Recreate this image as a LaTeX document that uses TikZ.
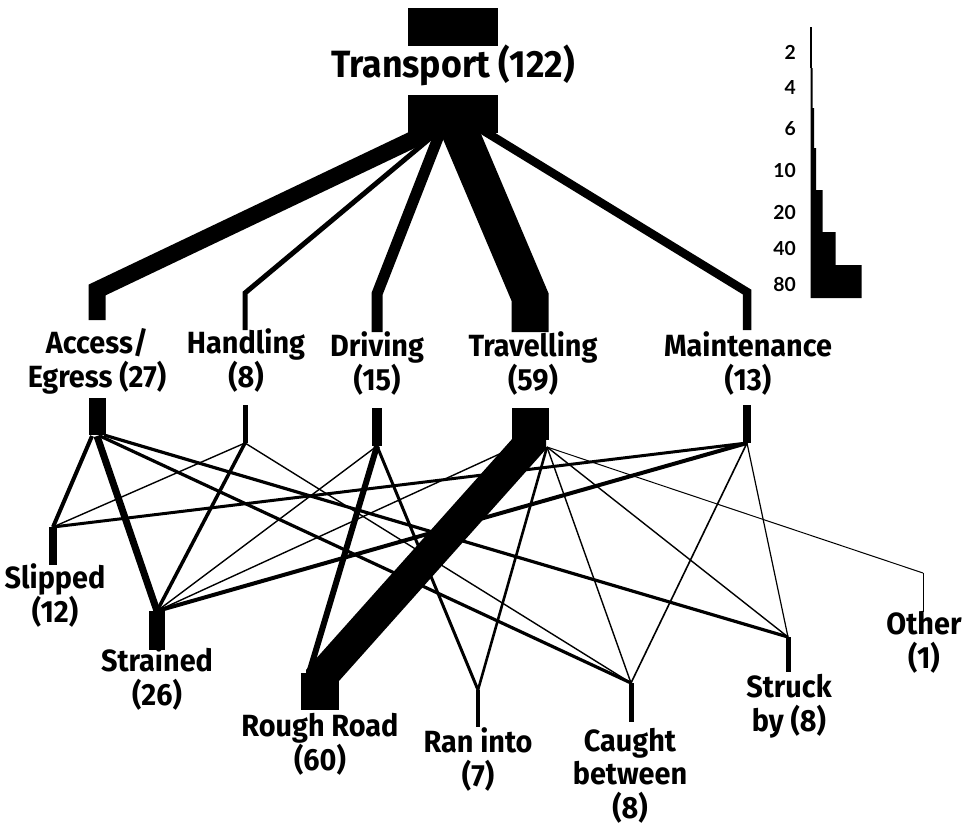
\documentclass[tikz,border=0pt]{standalone}
\usepackage{fontspec}
\newfontfamily\labfont{Fira Sans}[FakeStretch=0.94]
\newfontfamily\legfont{Lato}
\begin{document}
\begin{tikzpicture}[x=0.75pt,y=-0.75pt,
  lw/.style={line width=#1*0.75pt, line cap=butt, line join=miter},
  lab/.style={font=\labfont\bfseries\fontsize{23}{25}\selectfont, align=center, anchor=base, inner sep=0pt},
  big/.style={font=\labfont\bfseries\fontsize{28.5}{30}\selectfont, anchor=base, inner sep=0pt},
  leg/.style={font=\legfont\bfseries\fontsize{14.5}{15}\selectfont, anchor=base east, inner sep=0pt}]
\useasboundingbox (0,0) rectangle (964,825);

% ---------- Transport ----------
\fill (408,8) rectangle (498,46);
\fill (408,95) rectangle (498,133);
\node[big] (tr) at (453,77) {Transport (122)};

% start points inside the bar
\coordinate (tA) at (454,120);
\coordinate (tH) at (452,120);
\coordinate (tD) at (445,120);
\coordinate (tT) at (455,120);
\coordinate (tM) at (466,120);
% bends and stub ends above category labels
\coordinate (bA) at (97,290);  \coordinate (sA) at (97,320);
\coordinate (bH) at (245,293); \coordinate (sH) at (245,330);
\coordinate (bD) at (377,294); \coordinate (sD) at (377,332);
\coordinate (bT) at (530,297); \coordinate (sT) at (530,332);
\coordinate (bM) at (747,292); \coordinate (sM) at (747,330);

\draw[lw=17] (tA) -- (bA) -- (sA);
\draw[lw=5]  (tH) -- (bH) -- (sH);
\draw[lw=11] (tD) -- (bD) -- (sD);
\draw[lw=37] (tT) -- (bT) -- (sT);
\draw[lw=8.5] (tM) -- (bM) -- (sM);

% ---------- category labels ----------
\node[lab] (nA) at (97,387) {Access/\\Egress (27)};
\node[lab] (nH) at (246,387) {Handling\\(8)};
\node[lab] (nD) at (377,390) {Driving\\(15)};
\node[lab] (nT) at (533,390) {Travelling\\(59)};
\node[lab] (nM) at (748,390) {Maintenance\\(13)};

% lower stubs of categories
\coordinate (uA) at (97,398);  \coordinate (jA) at (97,435);
\coordinate (uH) at (245,405); \coordinate (jH) at (245,443);
\coordinate (uD) at (377,408); \coordinate (jD) at (377,446);
\coordinate (uT) at (530,408); \coordinate (jT) at (530,440);
\coordinate (uM) at (747,405); \coordinate (jM) at (747,443);
\draw[lw=17] (uA) -- (jA);
\draw[lw=5]  (uH) -- (jH);
\draw[lw=10] (uD) -- (jD);
\draw[lw=37] (uT) -- (jT);
\draw[lw=8.5] (uM) -- (jM);

% outcome stubs
\coordinate (Sl) at (53,527);  \coordinate (Sl2) at (53,565);
\coordinate (St) at (157,611); \coordinate (St2) at (157,650);
\coordinate (RRt) at (320,673); \coordinate (RRb) at (320,710);
\coordinate (RI) at (478,690); \coordinate (RI2) at (478,727);
\coordinate (CB) at (631,683); \coordinate (CB2) at (631,722);
\coordinate (SB) at (788,637); \coordinate (SB2) at (788,672);
\coordinate (Ot) at (923,573); \coordinate (Ot2) at (923,612);
\draw[lw=7.5] (Sl) -- (Sl2);
\draw[lw=16]  (St) -- (St2);
\draw[lw=38]  (RRt) -- (RRb);
\draw[lw=4.5] (RI) -- (RI2);
\draw[lw=5]   (CB) -- (CB2);
\draw[lw=5]   (SB) -- (SB2);
\draw[lw=1]   (Ot) -- (Ot2);

% ---------- connections ----------
\coordinate (a1) at (92,436);
\coordinate (a2) at (97,436);
\coordinate (a3) at (100,436);
\coordinate (a4) at (104,435);
\draw[lw=4]   (a1) -- (Sl);
\draw[lw=7]   (a2) -- (St);
\draw[lw=3.2] (a3) -- (CB);
\draw[lw=3.2] (a4) -- (SB);

\draw[lw=1.4] (jH) -- (Sl);
\draw[lw=3.5] (jH) -- (St);
\draw[lw=1.4] (jH) -- (CB);

\coordinate (rrL) at (310,670);
\draw[lw=1.4] (jD) -- (St);
\draw[lw=6]   (jD) -- (rrL);
\draw[lw=3]   (jD) -- (RI);

\coordinate (tR) at (547,447);
\draw[lw=1.4] (jT) -- (St);
\draw[lw=2.6] (tR) -- (RI);
\draw[lw=1.4] (tR) -- (CB);
\draw[lw=1.4] (tR) -- (SB);
\draw[lw=1]   (tR) -- (Ot);

\draw[lw=3]   (jM) -- (Sl);
\draw[lw=4]   (jM) -- (St);
\draw[lw=1.6] (jM) -- (CB);
\draw[lw=1.2] (jM) -- (SB);

% Travelling -> Rough Road band
\coordinate (bt0) at (530,425);
\coordinate (bt1) at (530,443);
\coordinate (bt2) at (322,676);
\coordinate (bt3) at (322,700);
\draw[lw=32] (bt0) -- (bt1) -- (bt2) -- (bt3);

% ---------- outcome labels ----------
\node[lab] (oSl) at (55,622) {Slipped\\(12)};
\node[lab] (oSt) at (157,705) {Strained\\(26)};
\node[lab] (oRR) at (320,770) {Rough Road\\(60)};
\node[lab] (oRI) at (478,786) {Ran into\\(7)};
\node[lab] (oCB) at (630,818) {Caught\\between\\(8)};
\node[lab] (oSB) at (789,731) {Struck\\by (8)};
\node[lab] (oOt) at (924,668) {Other\\(1)};

% ---------- legend ----------
\draw[line width=0.9pt] (811,27) -- (811,68);
\fill (810.5,68) -- (812.5,68) -- (812.5,108) -- (814,108) -- (814,148) -- (816,148)
  -- (816,190) -- (822.7,190) -- (822.7,232) -- (835.7,232) -- (835.7,265)
  -- (861.7,265) -- (861.7,298) -- (810.5,298) -- cycle;
\node[leg] (l2)  at (796,59)  {2};
\node[leg] (l4)  at (796,94)  {4};
\node[leg] (l6)  at (796,135) {6};
\node[leg] (l10) at (796,177) {10};
\node[leg] (l20) at (796,219) {20};
\node[leg] (l40) at (796,255) {40};
\node[leg] (l80) at (796,291) {80};
\end{tikzpicture}
\end{document}
